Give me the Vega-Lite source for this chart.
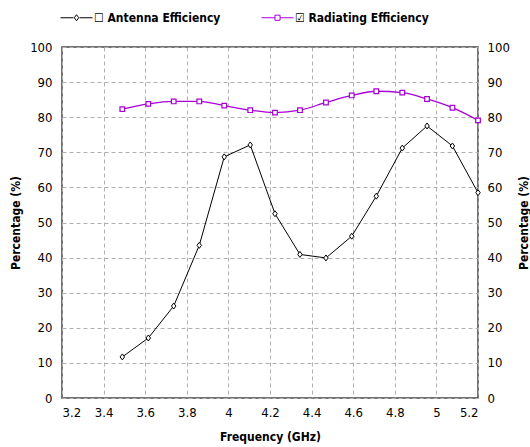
{
  "$schema": "https://vega.github.io/schema/vega-lite/v6.json",
  "width": 416,
  "height": 351,
  "autosize": {"type": "none"},
  "padding": {"left": 62, "top": 47, "right": 52, "bottom": 49},
  "background": "white",
  "config": {
    "font": "DejaVu Sans Condensed, Liberation Sans, sans-serif",
    "view": {"stroke": "#444444", "strokeWidth": 1.5},
    "axis": {
      "domain": false,
      "ticks": false,
      "labelFont": "DejaVu Sans Condensed, Liberation Sans, sans-serif",
      "labelFontSize": 13,
      "labelColor": "#000000",
      "labelPadding": 10,
      "titleFont": "DejaVu Sans Condensed, Liberation Sans, sans-serif",
      "titleFontSize": 12,
      "titleFontWeight": "bold",
      "titleColor": "#000000",
      "gridColor": "#b0b0b0",
      "gridDash": [4, 3],
      "gridWidth": 1
    }
  },
  "data": {
    "values": [
      {"f": 3.49, "p": 11.7, "s": "Antenna Efficiency"},
      {"f": 3.615, "p": 17.1, "s": "Antenna Efficiency"},
      {"f": 3.737, "p": 26.2, "s": "Antenna Efficiency"},
      {"f": 3.86, "p": 43.5, "s": "Antenna Efficiency"},
      {"f": 3.98, "p": 68.7, "s": "Antenna Efficiency"},
      {"f": 4.105, "p": 72.1, "s": "Antenna Efficiency"},
      {"f": 4.224, "p": 52.5, "s": "Antenna Efficiency"},
      {"f": 4.344, "p": 40.9, "s": "Antenna Efficiency"},
      {"f": 4.469, "p": 39.9, "s": "Antenna Efficiency"},
      {"f": 4.593, "p": 46.1, "s": "Antenna Efficiency"},
      {"f": 4.711, "p": 57.5, "s": "Antenna Efficiency"},
      {"f": 4.836, "p": 71.2, "s": "Antenna Efficiency"},
      {"f": 4.955, "p": 77.5, "s": "Antenna Efficiency"},
      {"f": 5.077, "p": 71.8, "s": "Antenna Efficiency"},
      {"f": 5.2, "p": 58.5, "s": "Antenna Efficiency"},
      {"f": 3.49, "p": 82.3, "s": "Radiating Efficiency"},
      {"f": 3.615, "p": 83.8, "s": "Radiating Efficiency"},
      {"f": 3.737, "p": 84.5, "s": "Radiating Efficiency"},
      {"f": 3.86, "p": 84.5, "s": "Radiating Efficiency"},
      {"f": 3.98, "p": 83.3, "s": "Radiating Efficiency"},
      {"f": 4.105, "p": 82.0, "s": "Radiating Efficiency"},
      {"f": 4.224, "p": 81.3, "s": "Radiating Efficiency"},
      {"f": 4.344, "p": 82.0, "s": "Radiating Efficiency"},
      {"f": 4.469, "p": 84.2, "s": "Radiating Efficiency"},
      {"f": 4.593, "p": 86.2, "s": "Radiating Efficiency"},
      {"f": 4.711, "p": 87.4, "s": "Radiating Efficiency"},
      {"f": 4.836, "p": 87.0, "s": "Radiating Efficiency"},
      {"f": 4.955, "p": 85.2, "s": "Radiating Efficiency"},
      {"f": 5.077, "p": 82.7, "s": "Radiating Efficiency"},
      {"f": 5.2, "p": 79.1, "s": "Radiating Efficiency"}
    ]
  },
  "layer": [
    {
      "transform": [{"filter": "datum.s === 'Antenna Efficiency'"}],
      "mark": {"type": "line", "interpolate": "linear", "strokeWidth": 1, "color": "#000000"},
      "encoding": {
        "x": {
          "field": "f", "type": "quantitative",
          "scale": {"domain": [3.2, 5.2], "nice": false, "zero": false},
          "axis": {
            "title": "Frequency (GHz)",
            "values": [3.2, 3.4, 3.6, 3.8, 4, 4.2, 4.4, 4.6, 4.8, 5, 5.2],
            "format": "~g",
            "labelPadding": 8,
            "titlePadding": 12
          }
        },
        "y": {
          "field": "p", "type": "quantitative",
          "scale": {"domain": [0, 100], "nice": false},
          "axis": {
            "orient": "left",
            "title": "Percentage (%)",
            "values": [0, 10, 20, 30, 40, 50, 60, 70, 80, 90, 100],
            "titleX": -47,
            "titleY": 175.5,
            "titleAngle": -90,
            "titleAlign": "center",
            "titleBaseline": "middle"
          }
        }
      }
    },
    {
      "transform": [{"filter": "datum.s === 'Radiating Efficiency'"}],
      "mark": {"type": "line", "interpolate": "monotone", "strokeWidth": 1.3, "color": "#a800d8"},
      "encoding": {
        "x": {"field": "f", "type": "quantitative"},
        "y": {
          "field": "p", "type": "quantitative",
          "axis": {
            "orient": "right",
            "title": "Percentage (%)",
            "grid": false,
            "values": [0, 10, 20, 30, 40, 50, 60, 70, 80, 90, 100],
            "labelPadding": 9,
            "titleX": 45,
            "titleY": 175.5,
            "titleAngle": -90,
            "titleAlign": "center",
            "titleBaseline": "middle"
          }
        }
      }
    },
    {
      "transform": [{"filter": "datum.s === 'Antenna Efficiency'"}],
      "mark": {"type": "point", "filled": true, "fill": "white", "stroke": "#000000", "strokeWidth": 1, "opacity": 1, "size": 36, "shape": "M0,-1L0.75,0L0,1L-0.75,0Z"},
      "encoding": {
        "x": {"field": "f", "type": "quantitative"},
        "y": {"field": "p", "type": "quantitative", "axis": null}
      }
    },
    {
      "transform": [{"filter": "datum.s === 'Radiating Efficiency'"}],
      "mark": {"type": "point", "filled": true, "fill": "white", "stroke": "#a800d8", "strokeWidth": 1.2, "opacity": 1, "size": 30, "shape": "M-0.85,-0.85H0.85V0.85H-0.85Z"},
      "encoding": {
        "x": {"field": "f", "type": "quantitative"},
        "y": {"field": "p", "type": "quantitative", "axis": null}
      }
    },
    {
      "mark": {"type": "point", "opacity": 0},
      "encoding": {
        "x": {"field": "f", "type": "quantitative"},
        "y": {"field": "p", "type": "quantitative", "axis": null},
        "color": {
          "field": "s", "type": "nominal",
          "scale": {"domain": ["Antenna Efficiency", "Radiating Efficiency"], "range": ["#000000", "#a800d8"]},
          "legend": {
            "orient": "none",
            "legendX": -2,
            "legendY": -46,
            "direction": "horizontal",
            "title": null,
            "labelFont": "DejaVu Sans Condensed, Liberation Sans, sans-serif",
            "labelFontSize": 12,
            "labelFontWeight": "bold",
            "labelColor": "#000000",
            "labelOffset": 1,
            "labelLimit": 300,
            "symbolSize": 1024,
            "symbolStrokeWidth": 1,
            "symbolOpacity": 1,
            "columnPadding": 38,
            "labelExpr": "datum.value === 'Antenna Efficiency' ? '☐ Antenna Efficiency' : '☑ Radiating Efficiency'"
          }
        },
        "shape": {
          "field": "s", "type": "nominal",
          "scale": {"domain": ["Antenna Efficiency", "Radiating Efficiency"], "range": ["M-1,0L-0.19,0M0.19,0L1,0M0,-0.19L0.14,0L0,0.19L-0.14,0Z", "M-1,0L-0.16,0M0.16,0L1,0M-0.16,-0.16H0.16V0.16H-0.16Z"]}
        }
      }
    }
  ],
  "resolve": {"axis": {"y": "independent"}}
}
